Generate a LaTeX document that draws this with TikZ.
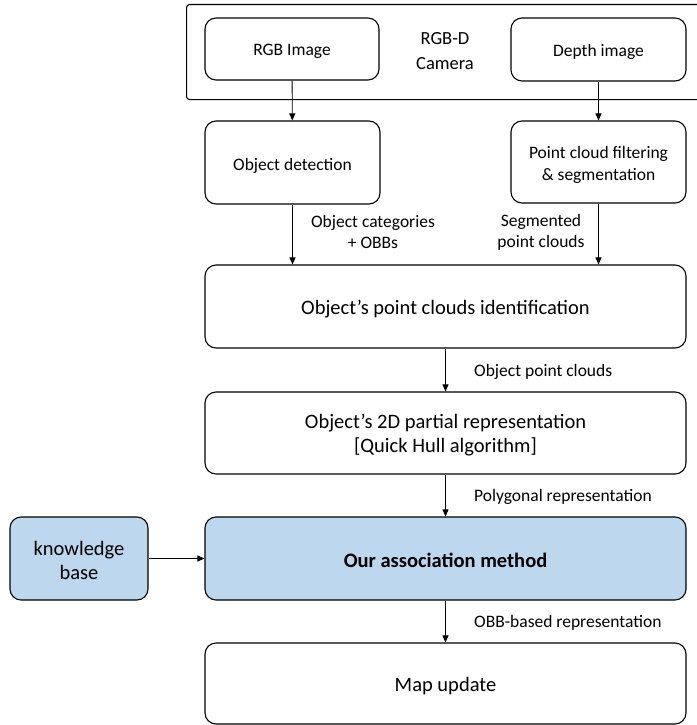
\documentclass[tikz,border=0pt]{standalone}
\usepackage{fontspec}
\setmainfont{Carlito}
\usetikzlibrary{arrows.meta}
\definecolor{boxblue}{HTML}{BDD7EE}
\begin{document}
\begin{tikzpicture}[x=1pt,y=-1pt,
  box/.style={draw=black,line width=1.1pt,rounded corners=11pt,inner sep=0pt},
  smalltxt/.style={font=\fontsize{17.5}{22}\selectfont,align=center,inner sep=0pt},
  bigtxt/.style={font=\fontsize{20.5}{24}\selectfont,align=center,inner sep=0pt},
  lbl/.style={font=\fontsize{17.5}{21}\selectfont,align=center,inner sep=0pt},
  arr/.style={-{Triangle[length=7pt,width=6pt]},line width=0.9pt}]
\useasboundingbox (0,0) rectangle (696,725);
% camera frame
\node[draw=black,line width=1.1pt,rounded corners=3pt,minimum width=514pt,minimum height=95pt,inner sep=0pt,anchor=north west] (cam) at (186,4) {};
\node[align=center,font=\fontsize{18.5}{25}\selectfont] (camtxt) at (445,51) {RGB-D\\Camera};
% boxes
\node[box,minimum width=174pt,minimum height=62pt] (rgb) at (292,49) {};
\node[box,minimum width=175pt,minimum height=63pt] (depth) at (598.5,49.5) {};
\node[box,minimum width=175pt,minimum height=83pt] (det) at (292.5,162.5) {};
\node[box,minimum width=175pt,minimum height=82pt] (filt) at (598.5,162) {};
\node[box,minimum width=481pt,minimum height=83pt] (ident) at (445.5,306.5) {};
\node[box,minimum width=481pt,minimum height=82pt] (part) at (445.5,433) {};
\node[box,fill=boxblue,minimum width=481pt,minimum height=83pt] (assoc) at (445.5,558.5) {};
\node[box,fill=boxblue,minimum width=138pt,minimum height=83pt] (kb) at (79,558.5) {};
\node[box,minimum width=481pt,minimum height=81pt] (map) at (445.5,683.5) {};
% box texts
\node[smalltxt] (rgbT) at ([yshift=-2.5pt]rgb.center) {RGB Image};
\node[smalltxt] (depthT) at ([yshift=-2.5pt]depth.center) {Depth image};
\node[smalltxt] (detT) at ([yshift=-3pt]det.center) {Object detection};
\node[smalltxt] (filtT) at ([yshift=-2.5pt]filt.center) {Point cloud filtering\\\& segmentation};
\node[bigtxt] (identT) at ([yshift=-3pt]ident.center) {Object’s point clouds identification};
\node[bigtxt] (partT) at ([yshift=-2.5pt]part.center) {Object’s 2D partial representation\\{}[Quick Hull algorithm]};
\node[bigtxt,font=\fontsize{20.5}{24}\selectfont\bfseries] (assocT) at ([yshift=-2pt]assoc.center) {Our association method};
\node[bigtxt] (kbT) at ([yshift=-2pt]kb.center) {knowledge\\base};
\node[bigtxt] (mapT) at ([yshift=-3pt]map.center) {Map update};
% connectors
\draw[arr] (rgb) -- (det);
\draw[arr] (depth) -- (filt);
\draw[arr] (det.south) -- (det.south |- ident.north);
\draw[arr] (filt.south) -- (filt.south |- ident.north);
\draw[arr] (ident) -- (part);
\draw[arr,line width=0.6pt] (part) -- (assoc);
\draw[arr] (kb) -- (assoc);
\draw[arr] (assoc) -- (map);
% labels
\node[lbl] (l1) at (373,232) {Object categories\\+ OBBs};
\node[lbl] (l2) at (541,232) {Segmented\\point clouds};
\node[lbl,anchor=west] (l3) at (474,371.5) {Object point clouds};
\node[lbl,anchor=west] (l4) at (474,496.5) {Polygonal representation};
\node[lbl,anchor=west] (l5) at (474,622.5) {OBB-based representation};
\end{tikzpicture}
\end{document}
